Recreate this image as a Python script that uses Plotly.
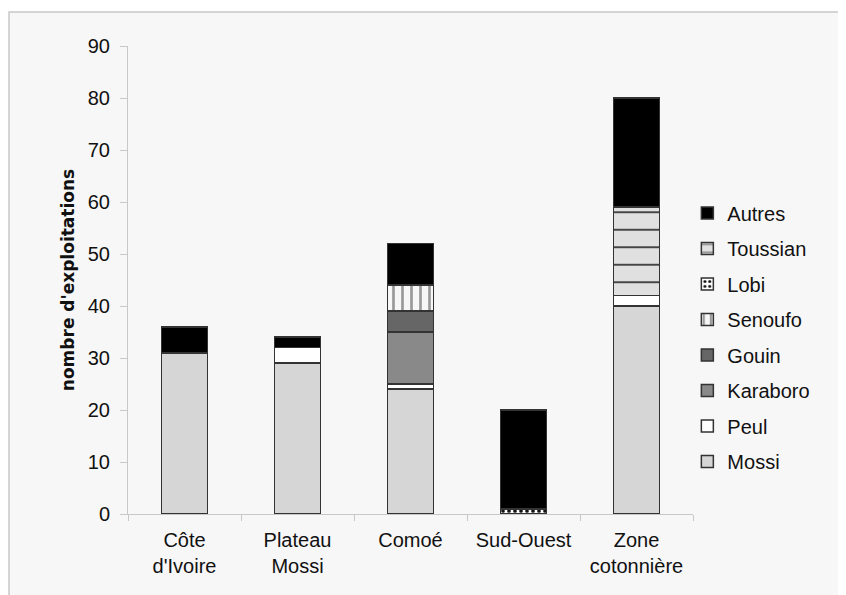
import plotly.graph_objects as go

categories = ["Côte<br>d'Ivoire", "Plateau<br>Mossi", "Comoé", "Sud-Ouest", "Zone<br>cotonnière"]

mossi = [31, 29, 24, 0, 40]
peul = [0, 3, 1, 0, 2]
karaboro = [0, 0, 10, 0, 0]
gouin = [0, 0, 4, 0, 0]
senoufo = [0, 0, 5, 0, 0]
lobi = [0, 0, 0, 1, 0]
toussian = [0, 0, 0, 0, 17]
autres = [5, 2, 8, 19, 21]

series = [
    ("Mossi", mossi, dict(color="#d6d6d6")),
    ("Peul", peul, dict(color="#ffffff")),
    ("Karaboro", karaboro, dict(color="#898989")),
    ("Gouin", gouin, dict(color="#666666")),
    ("Senoufo", senoufo, dict(color="#f7f7f7",
                              pattern=dict(shape="|", bgcolor="#f7f7f7", fgcolor="#9a9a9a",
                                           size=9, solidity=0.3, fillmode="replace"))),
    ("Lobi", lobi, dict(color="#ffffff",
                        pattern=dict(shape=".", bgcolor="#ffffff", fgcolor="#111111",
                                     size=6, solidity=0.3, fillmode="replace"))),
    ("Toussian", toussian, dict(color="#e0e0e0",
                                pattern=dict(shape="-", bgcolor="#e0e0e0", fgcolor="#333333",
                                             size=17.5, solidity=0.1, fillmode="replace"))),
    ("Autres", autres, dict(color="#000000")),
]

fig = go.Figure()
n = len(series)
for i, (name, vals, mk) in enumerate(series):
    fig.add_trace(go.Bar(
        x=categories, y=vals, name=name, legendgroup=name, legendrank=n - i,
        marker=dict(**mk, line=dict(color="#333333", width=1.5)),
        width=0.41,
    ))

ax_font = dict(family="Liberation Sans, Arial", size=20, color="#111111")

fig.update_layout(
    barmode="stack",
    width=846, height=595,
    margin=dict(l=120, r=161, t=38, b=89),
    paper_bgcolor="#ffffff",
    plot_bgcolor="#f7f7f7",
    font=ax_font,
    showlegend=True,
    legend=dict(x=0.99, xanchor="left", y=0.685, yanchor="top",
                traceorder="grouped", tracegroupgap=6.5,
                font=ax_font, itemwidth=30, bgcolor="rgba(0,0,0,0)"),
    shapes=[dict(type="rect", xref="paper", yref="paper",
                 x0=-0.2106, x1=1.3, y0=-0.2, y1=1.0726,
                 fillcolor="#f7f7f7", line=dict(color="#c8c8c8", width=1.5),
                 layer="below")],
)

fig.update_xaxes(
    showline=True, linecolor="#c8c8c8", linewidth=1,
    ticks="outside", ticklen=6, tickcolor="#c8c8c8", tickson="boundaries",
    tickfont=ax_font, showgrid=False, ticklabelstandoff=8,
)
fig.update_yaxes(
    range=[0, 90], dtick=10, showline=True, linecolor="#c8c8c8", linewidth=1,
    ticks="outside", ticklen=7, tickcolor="#c8c8c8", showgrid=False, zeroline=False,
    tickfont=ax_font, ticklabelstandoff=6,
    title=dict(text="nombre d'exploitations", standoff=8,
               font=dict(family="DejaVu Sans", size=17, color="#111111", weight="bold")),
)

fig.write_html("out.html")
